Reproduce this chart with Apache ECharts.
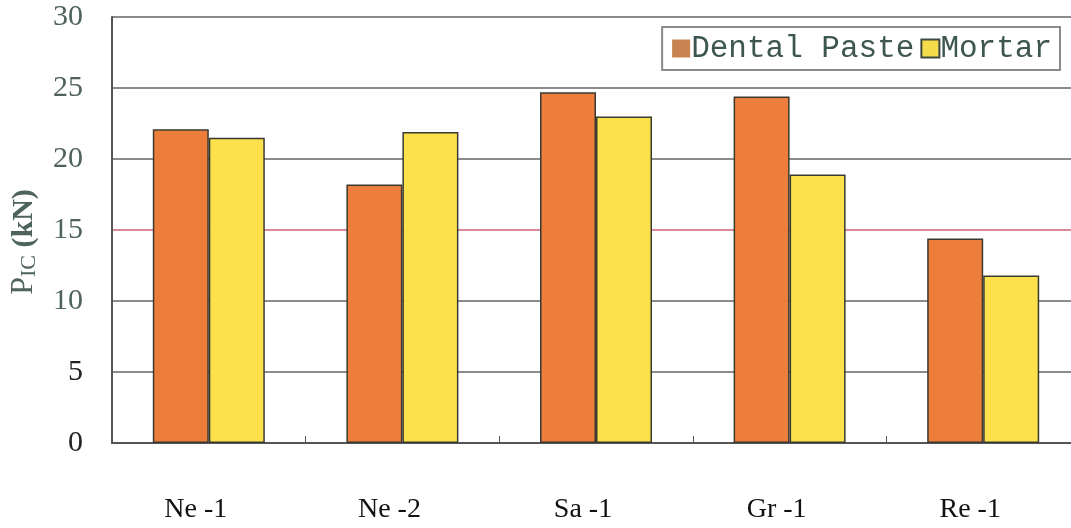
<!DOCTYPE html>
<html>
<head>
<meta charset="utf-8">
<script src="https://cdn.jsdelivr.net/npm/echarts@6/dist/echarts.min.js"></script>
<style>
  html, body { margin: 0; padding: 0; background: #fff; }
  #chart { width: 1071px; height: 528px; }
</style>
</head>
<body>
<div id="chart"></div>
<script>
// Fracture load per stone type, two repair materials
const categories = ['Ne -1', 'Ne -2', 'Sa -1', 'Gr -1', 'Re -1'];
const dentalPaste = [22.1, 18.2, 24.7, 24.4, 14.4];
const mortar = [21.5, 21.9, 23.0, 18.9, 11.8];
const yTicks = [0, 5, 10, 15, 20, 25, 30];

const chart = echarts.init(document.getElementById('chart'));

const serif = '"Liberation Serif", "DejaVu Serif", serif';
const mono = '"Liberation Mono", "DejaVu Sans Mono", monospace';
const soft = '#4f635d';

chart.setOption({
  animation: false,
  backgroundColor: '#ffffff',
  grid: { left: 112, top: 17, width: 968, bottom: 85, containLabel: false, outerBoundsMode: 'none' },
  legend: {
    right: 11,
    top: 27,
    icon: 'rect',
    itemWidth: 18,
    itemHeight: 18,
    itemGap: 6,
    padding: [6, 8, 6, 10],
    borderColor: '#8a8a8a',
    borderWidth: 2,
    backgroundColor: '#ffffff',
    textStyle: { fontFamily: mono, fontSize: 31, color: '#3e5650', padding: [0, 0, 0, -4] },
    data: [
      { name: 'Dental Paste', itemStyle: { color: '#c98352', borderWidth: 0 } },
      { name: 'Mortar', itemStyle: { color: '#f5dc4a', borderColor: '#3e4a40', borderWidth: 2 } }
    ]
  },
  xAxis: {
    type: 'category',
    data: categories,
    axisLine: { lineStyle: { color: '#555', width: 2 } },
    axisTick: { show: true, inside: true, length: 7, lineStyle: { color: '#555', width: 1 } },
    axisLabel: { fontFamily: serif, fontSize: 28, color: '#111', margin: 53, padding: [0, 26, 0, 0] }
  },
  yAxis: {
    type: 'value',
    min: yTicks[0],
    max: yTicks[yTicks.length - 1],
    interval: 5,
    axisLine: { show: true, lineStyle: { color: '#555', width: 2 } },
    axisTick: { show: false },
    axisLabel: {
      fontFamily: serif,
      fontSize: 30,
      margin: 29,
      formatter: v => (v <= 5 ? '{dark|' + v + '}' : '{soft|' + v + '}'),
      rich: {
        dark: { fontFamily: serif, fontSize: 30, color: '#222' },
        soft: { fontFamily: serif, fontSize: 30, color: soft }
      }
    },
    splitLine: {
      show: true,
      lineStyle: {
        color: ['#8c8c8c', '#8c8c8c', '#8c8c8c', '#d98a96', '#8c8c8c', '#8c8c8c', '#8c8c8c'],
        width: 2
      }
    },
    name: '{p|P}{sub|IC}{u| (kN)}',
    nameLocation: 'middle',
    nameGap: 72,
    nameRotate: 90,
    nameTextStyle: {
      padding: [0, 24, 0, 0],
      rich: {
        p: { fontFamily: serif, fontSize: 32, color: soft },
        sub: { fontFamily: serif, fontSize: 22, color: soft, verticalAlign: 'bottom', padding: [8, 0, 0, 0] },
        u: { fontFamily: serif, fontSize: 30, fontWeight: 'bold', color: soft }
      }
    }
  },
  series: [
    {
      name: 'Dental Paste',
      type: 'bar',
      data: dentalPaste,
      barWidth: 56,
      barGap: '0%',
      itemStyle: { color: '#ec7d3a', borderColor: '#3a3a30', borderWidth: 1.5 }
    },
    {
      name: 'Mortar',
      type: 'bar',
      data: mortar,
      barWidth: 56,
      itemStyle: { color: '#fde14c', borderColor: '#3a3a30', borderWidth: 1.5 }
    }
  ]
});
</script>
</body>
</html>
